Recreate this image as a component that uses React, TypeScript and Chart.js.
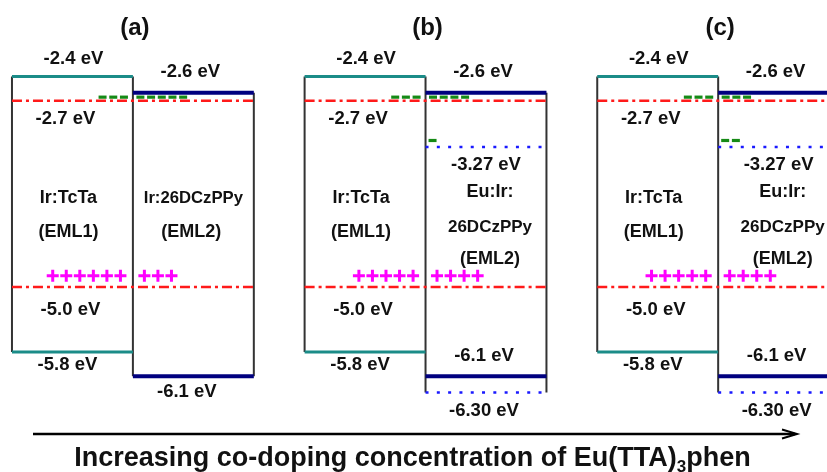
import React, { useEffect, useRef } from 'react';
import { Chart, registerables } from 'chart.js';

Chart.register(...registerables);

// ---- data ----
const panels = ['(a)', '(b)', '(c)'];
const eml1Lumo = [-2.4, -2.4, -2.4];
const eml1Homo = [-5.8, -5.8, -5.8];
const eml2Lumo = [-2.6, -2.6, -2.6];
const eml2Homo = [-6.1, -6.1, -6.1];
const irLumo = [-2.7, -2.7, -2.7];
const irHomo = [-5.0, -5.0, -5.0];
const euLumo: (number | null)[] = [null, -3.27, -3.27];
const euHomo: (number | null)[] = [null, -6.3, -6.3];
const electronsEml1 = [3, 3, 3];
const electronsEml2 = [5, 4, 3];
const trappedEml2 = [0, 1, 2];
const holesEml1 = [6, 5, 5];
const holesEml2 = [3, 4, 4];
const electronLevel = -2.655;
const trappedLevel = -3.19;
const holeLevel = -4.86;
const eml1Names = ['Ir:TcTa', '(EML1)'];
const eml2NamesIr = ['Ir:26DCzPPy', '(EML2)'];
const eml2NamesEu = ['Eu:Ir:', '26DCzPPy', '(EML2)'];
const xTitleMain = 'Increasing co-doping concentration of Eu(TTA)';
const xTitleSub = '3';
const xTitleEnd = 'phen';

// ---- layout ----
const STEP = 2.42;
const E_SP = 0.0884;
const H_SP = 0.112;

const TEAL = '#1b8c88';
const NAVY = '#00007f';
const RED = '#ff1a1a';
const BLUE = '#1a1aff';
const GREEN = '#158a15';
const MAGENTA = '#ff00ff';
const DARK = '#333333';

function seg(pts: { x: number; y: number }[], color: string, width: number, order: number, dash: number[] = []) {
  return {
    type: 'line' as const,
    data: pts,
    borderColor: color,
    borderWidth: width,
    borderDash: dash,
    pointRadius: 0,
    fill: false,
    tension: 0,
    order,
  };
}

function buildDatasets() {
  const ds: any[] = [];
  for (let p = 0; p < panels.length; p++) {
    const x0 = p * STEP, x1 = x0 + 1, x2 = x0 + 2;
    const bottom2 = euHomo[p] ?? eml2Homo[p];
    ds.push(seg([{ x: x0, y: eml1Lumo[p] }, { x: x0, y: eml1Homo[p] }], DARK, 2, 9));
    ds.push(seg([{ x: x1, y: eml1Lumo[p] }, { x: x1, y: bottom2 }], DARK, 2, 9));
    ds.push(seg([{ x: x2, y: eml2Lumo[p] }, { x: x2, y: bottom2 }], DARK, 2, 9));
    ds.push(seg([{ x: x0, y: eml1Lumo[p] }, { x: x1, y: eml1Lumo[p] }], TEAL, 3, 7));
    ds.push(seg([{ x: x0, y: eml1Homo[p] }, { x: x1, y: eml1Homo[p] }], TEAL, 3, 7));
    ds.push(seg([{ x: x1, y: eml2Lumo[p] }, { x: x2, y: eml2Lumo[p] }], NAVY, 4, 7));
    ds.push(seg([{ x: x1, y: eml2Homo[p] }, { x: x2, y: eml2Homo[p] }], NAVY, 4, 7));
    ds.push(seg([{ x: x0, y: irLumo[p] }, { x: x2, y: irLumo[p] }], RED, 2.5, 6, [10, 4, 3, 4]));
    ds.push(seg([{ x: x0, y: irHomo[p] }, { x: x2, y: irHomo[p] }], RED, 2.5, 6, [10, 4, 3, 4]));
    if (euLumo[p] != null) {
      ds.push(seg([{ x: x1, y: euLumo[p] as number }, { x: x2, y: euLumo[p] as number }], BLUE, 2.5, 6, [3, 8.3]));
    }
    if (euHomo[p] != null) {
      ds.push(seg([{ x: x1, y: euHomo[p] as number }, { x: x2, y: euHomo[p] as number }], BLUE, 2.5, 6, [3, 8.3]));
    }
    // electrons
    const el: { x: number; y: number }[] = [];
    for (let i = 0; i < electronsEml1[p]; i++) el.push({ x: x1 - 0.074 - (electronsEml1[p] - 1 - i) * E_SP, y: electronLevel });
    for (let i = 0; i < electronsEml2[p]; i++) el.push({ x: x1 + 0.062 + i * E_SP, y: electronLevel });
    for (let i = 0; i < trappedEml2[p]; i++) el.push({ x: x1 + 0.058 + i * E_SP, y: trappedLevel });
    ds.push({
      type: 'scatter' as const,
      data: el,
      pointStyle: 'line',
      pointRadius: 4,
      borderColor: GREEN,
      backgroundColor: GREEN,
      borderWidth: 3.2,
      order: 2,
    });
    // holes
    const ho: { x: number; y: number }[] = [];
    for (let i = 0; i < holesEml1[p]; i++) ho.push({ x: x1 - 0.103 - (holesEml1[p] - 1 - i) * H_SP, y: holeLevel });
    for (let i = 0; i < holesEml2[p]; i++) ho.push({ x: x1 + 0.095 + i * H_SP, y: holeLevel });
    ds.push({
      type: 'scatter' as const,
      data: ho,
      pointStyle: 'cross',
      pointRadius: 6,
      borderColor: MAGENTA,
      backgroundColor: MAGENTA,
      borderWidth: 3,
      order: 2,
    });
  }
  return ds;
}

type Lab = { text: string; x: number; e: number; dx: number; dy: number; size: number };

function fmt(v: number, d = 1) {
  return `${v.toFixed(d)} eV`;
}

const ES = 18.5;

function buildLabels(): Lab[] {
  const L: Lab[] = [];
  for (let p = 0; p < panels.length; p++) {
    const b = p * STEP;
    const c1 = b + 0.5, c2 = b + 1.5;
    L.push({ text: panels[p], x: b + 1, e: eml1Lumo[p], dx: 2, dy: -48.5, size: 24 });
    L.push({ text: fmt(eml1Lumo[p]), x: c1, e: eml1Lumo[p], dx: 1, dy: -17.5, size: ES });
    L.push({ text: fmt(eml2Lumo[p]), x: c2, e: eml2Lumo[p], dx: -3, dy: -20.5, size: ES });
    L.push({ text: fmt(irLumo[p]), x: c1, e: irLumo[p], dx: -7, dy: 18, size: ES });
    L.push({ text: fmt(irHomo[p]), x: c1, e: irHomo[p], dx: -2, dy: 23, size: ES });
    L.push({ text: fmt(eml1Homo[p]), x: c1, e: eml1Homo[p], dx: -5, dy: 13, size: ES });
    L.push({ text: eml1Names[0], x: c1, e: eml1Lumo[p], dx: -4, dy: 121.5, size: 18 });
    L.push({ text: eml1Names[1], x: c1, e: eml1Lumo[p], dx: -4, dy: 155.5, size: 18 });
    if (euLumo[p] != null && euHomo[p] != null) {
      L.push({ text: fmt(euLumo[p] as number, 2), x: c2, e: euLumo[p] as number, dx: 0, dy: 18, size: ES });
      L.push({ text: fmt(eml2Homo[p]), x: c2, e: eml2Homo[p], dx: -2, dy: -20, size: ES });
      L.push({ text: fmt(euHomo[p] as number, 2), x: c2, e: euHomo[p] as number, dx: -2, dy: 19, size: ES });
      const ys = [115.5, 150.5, 182.5];
      eml2NamesEu.forEach((t, i) => L.push({ text: t, x: c2, e: eml1Lumo[p], dx: 4, dy: ys[i], size: i === 1 ? 17 : 18 }));
    } else {
      L.push({ text: fmt(eml2Homo[p]), x: c2, e: eml2Homo[p], dx: -6.5, dy: 16, size: ES });
      const ys = [121.5, 155.5];
      eml2NamesIr.forEach((t, i) => L.push({ text: t, x: c2, e: eml1Lumo[p], dx: i === 0 ? 0 : -2, dy: ys[i], size: i === 0 ? 16.7 : 18 }));
    }
  }
  return L;
}

const FONT = '"Liberation Sans", Arial, Helvetica, sans-serif';

const textPlugin = {
  id: 'energyTexts',
  afterDatasetsDraw(chart: any) {
    const ctx: CanvasRenderingContext2D = chart.ctx;
    const xs = chart.scales.x, ys = chart.scales.y;
    ctx.save();
    ctx.fillStyle = '#111111';
    ctx.textAlign = 'center';
    ctx.textBaseline = 'middle';
    for (const l of buildLabels()) {
      ctx.font = `bold ${l.size}px ${FONT}`;
      ctx.fillText(l.text, xs.getPixelForValue(l.x) + l.dx, ys.getPixelForValue(l.e) + l.dy);
    }
    // arrow
    ctx.strokeStyle = '#000';
    ctx.lineWidth = 2.5;
    ctx.beginPath();
    ctx.moveTo(33, 434);
    ctx.lineTo(795, 434);
    ctx.stroke();
    ctx.lineWidth = 2;
    ctx.beginPath();
    ctx.moveTo(782, 429.5);
    ctx.lineTo(797, 434);
    ctx.lineTo(782, 438.5);
    ctx.stroke();
    // bottom title
    ctx.textAlign = 'left';
    ctx.textBaseline = 'alphabetic';
    const big = `bold 27px ${FONT}`;
    const small = `bold 17px ${FONT}`;
    ctx.font = big;
    const w1 = ctx.measureText(xTitleMain).width;
    const w3 = ctx.measureText(xTitleEnd).width;
    ctx.font = small;
    const w2 = ctx.measureText(xTitleSub).width;
    const total = w1 + w2 + w3;
    let x = 412.5 - total / 2;
    const base = 466;
    ctx.font = big;
    ctx.fillText(xTitleMain, x, base);
    x += w1;
    ctx.font = small;
    ctx.fillText(xTitleSub, x, base + 6);
    x += w2;
    ctx.font = big;
    ctx.fillText(xTitleEnd, x, base);
    ctx.restore();
  },
};

export default function App() {
  const ref = useRef<HTMLCanvasElement | null>(null);
  useEffect(() => {
    if (!ref.current) return;
    const chart = new Chart(ref.current, {
      type: 'line',
      data: { datasets: buildDatasets() },
      options: {
        animation: false,
        responsive: false,
        events: [],
        layout: { padding: 0, autoPadding: false },
        plugins: { legend: { display: false }, tooltip: { enabled: false }, title: { display: false } },
        scales: {
          x: { type: 'linear', display: false, min: -0.099, max: 6.74 },
          y: { type: 'linear', display: false, min: -2.4 - (472 - 76.5) / 81, max: -2.4 + 76.5 / 81 },
        },
      },
      plugins: [textPlugin],
    });
    return () => chart.destroy();
  }, []);
  return (
    <div style={{ position: 'fixed', left: 0, top: 0, width: 827, height: 472, background: '#fff' }}>
      <canvas ref={ref} width={827} height={472} style={{ width: 827, height: 472 }} />
    </div>
  );
}
